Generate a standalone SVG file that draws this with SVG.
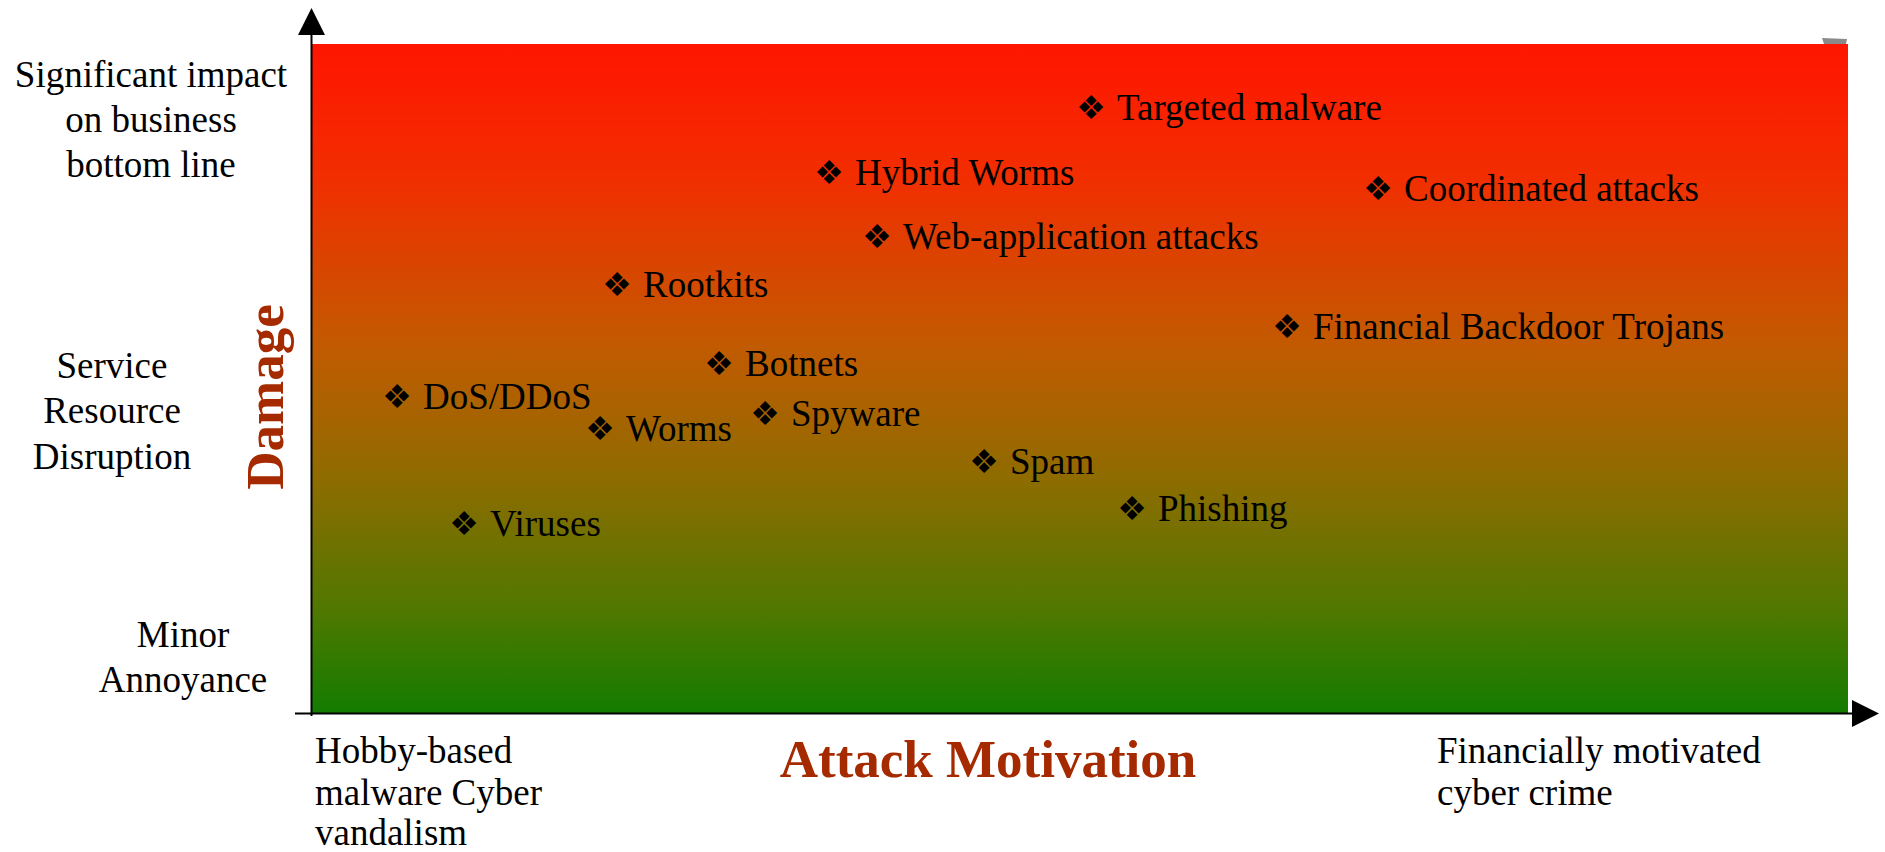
<svg xmlns="http://www.w3.org/2000/svg" width="1885" height="852" viewBox="0 0 1885 852">
<defs>
<linearGradient id="bg" x1="0" y1="0" x2="0" y2="1">
<stop offset="0" stop-color="#FF1500"/>
<stop offset="0.2" stop-color="#F22E00"/>
<stop offset="0.45" stop-color="#C25A00"/>
<stop offset="0.65" stop-color="#8E6C00"/>
<stop offset="0.85" stop-color="#4E7800"/>
<stop offset="1" stop-color="#127C00"/>
</linearGradient>
<marker id="arr" viewBox="0 0 27 27" markerWidth="27" markerHeight="27" refX="1" refY="13.5" orient="auto" markerUnits="userSpaceOnUse">
<path d="M0,0 L27,13.5 L0,27 z" fill="#000"/>
</marker>
</defs>
<style>
.lbl{font-family:"Liberation Serif","Times New Roman",serif;font-size:37px;fill:#000}
.mid{text-anchor:middle}
.ttl{font-family:"Liberation Serif","Times New Roman",serif;font-size:53px;font-weight:bold;fill:#A62A00;text-anchor:middle}
.bul{font-family:"DejaVu Sans",sans-serif;font-size:33px;fill:#000;text-anchor:middle}
.ax{stroke:#000;stroke-width:2;fill:none}
</style>
<rect x="0" y="0" width="1885" height="852" fill="#fff"/>
<rect id="plot" x="312" y="44" width="1536" height="670" fill="url(#bg)"/>
<polygon points="1822,38 1847,39 1846,44 1824,44" fill="#8a8a8a"/>
<g id="axes">
<line class="ax" x1="311.5" y1="716" x2="311.5" y2="34" marker-end="url(#arr)"/>
<line class="ax" x1="295" y1="713.5" x2="1853" y2="713.5" marker-end="url(#arr)"/>
</g>
<g id="y-labels">
<text class="lbl mid" x="151"><tspan x="151" y="87">Significant impact</tspan><tspan x="151" y="132">on business</tspan><tspan x="151" y="177">bottom line</tspan></text>
<text class="lbl mid" x="112"><tspan x="112" y="378">Service</tspan><tspan x="112" y="423">Resource</tspan><tspan x="112" y="469">Disruption</tspan></text>
<text class="lbl mid" x="183"><tspan x="183" y="647">Minor</tspan><tspan x="183" y="692">Annoyance</tspan></text>
</g>
<g id="x-labels">
<text class="lbl" x="315"><tspan x="315" y="763">Hobby-based</tspan><tspan x="315" y="805">malware Cyber</tspan><tspan x="315" y="845">vandalism</tspan></text>
<text class="lbl" x="1437"><tspan x="1437" y="763">Financially motivated</tspan><tspan x="1437" y="805">cyber crime</tspan></text>
</g>
<text id="damage" class="ttl" transform="translate(283,397) rotate(-90)" x="0" y="0">Damage</text>
<text id="motivation" class="ttl" x="988" y="777">Attack Motivation</text>
<g id="n-targeted" transform="translate(1117,120)"><text class="bul" x="-26" y="-1">❖</text><text class="lbl" x="0" y="0">Targeted malware</text></g>
<g id="n-hybrid" transform="translate(855,185)"><text class="bul" x="-26" y="-1">❖</text><text class="lbl" x="0" y="0">Hybrid Worms</text></g>
<g id="n-coordinated" transform="translate(1404,201)"><text class="bul" x="-26" y="-1">❖</text><text class="lbl" x="0" y="0">Coordinated attacks</text></g>
<g id="n-webapp" transform="translate(903,249)"><text class="bul" x="-26" y="-1">❖</text><text class="lbl" x="0" y="0">Web-application attacks</text></g>
<g id="n-rootkits" transform="translate(643,297)"><text class="bul" x="-26" y="-1">❖</text><text class="lbl" x="0" y="0">Rootkits</text></g>
<g id="n-financial" transform="translate(1313,339)"><text class="bul" x="-26" y="-1">❖</text><text class="lbl" x="0" y="0">Financial Backdoor Trojans</text></g>
<g id="n-botnets" transform="translate(745,376)"><text class="bul" x="-26" y="-1">❖</text><text class="lbl" x="0" y="0">Botnets</text></g>
<g id="n-dos" transform="translate(423,409)"><text class="bul" x="-26" y="-1">❖</text><text class="lbl" x="0" y="0">DoS/DDoS</text></g>
<g id="n-spyware" transform="translate(791,426)"><text class="bul" x="-26" y="-1">❖</text><text class="lbl" x="0" y="0">Spyware</text></g>
<g id="n-worms" transform="translate(626,441)"><text class="bul" x="-26" y="-1">❖</text><text class="lbl" x="0" y="0">Worms</text></g>
<g id="n-spam" transform="translate(1010,474)"><text class="bul" x="-26" y="-1">❖</text><text class="lbl" x="0" y="0">Spam</text></g>
<g id="n-phishing" transform="translate(1158,521)"><text class="bul" x="-26" y="-1">❖</text><text class="lbl" x="0" y="0">Phishing</text></g>
<g id="n-viruses" transform="translate(490,536)"><text class="bul" x="-26" y="-1">❖</text><text class="lbl" x="0" y="0">Viruses</text></g>
</svg>
